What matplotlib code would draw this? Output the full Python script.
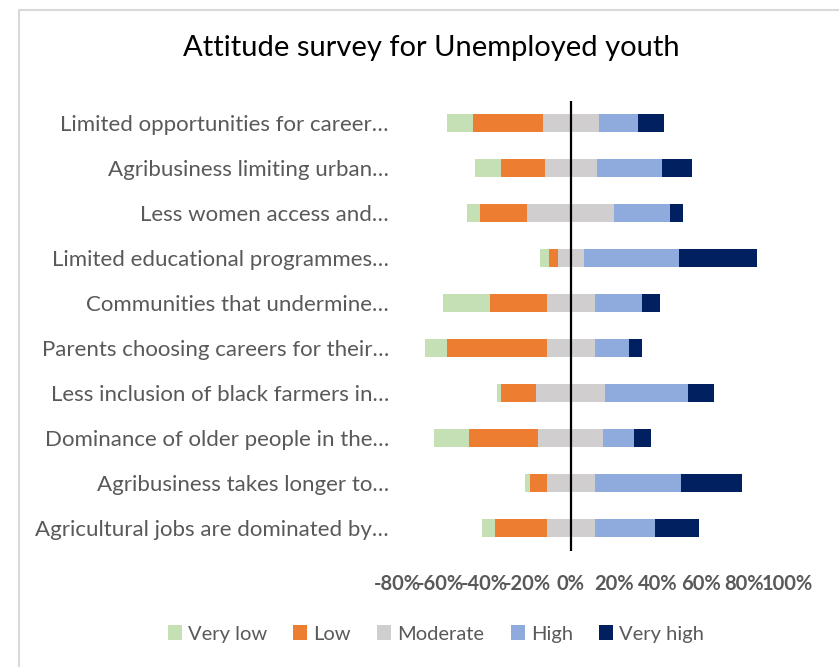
import numpy as np
import matplotlib.pyplot as plt
from matplotlib.patches import Patch, Rectangle

plt.rcParams['font.family'] = ['Lato', 'DejaVu Sans']

# Statements, listed from top to bottom
statements = [
    'Limited opportunities for career…',
    'Agribusiness limiting urban…',
    'Less women access and…',
    'Limited educational programmes…',
    'Communities that undermine…',
    'Parents choosing careers for their…',
    'Less inclusion of black farmers in…',
    'Dominance of older people in the…',
    'Agribusiness takes longer to…',
    'Agricultural jobs are dominated by…',
]

# Share of responses (%) per level
very_low = [12, 12, 6, 4, 22, 10, 2, 16, 2, 6]
low = [32, 20, 22, 4, 26, 46, 16, 32, 8, 24]
moderate = [26, 24, 40, 12, 22, 22, 32, 30, 22, 22]
high = [18, 30, 26, 44, 22, 16, 38, 14, 40, 28]
very_high = [12, 14, 6, 36, 8, 6, 12, 8, 28, 20]

levels = ['Very low', 'Low', 'Moderate', 'High', 'Very high']
colors = ['#c5e0b4', '#ed7d31', '#d0cece', '#8faadc', '#002060']
xticks = [-80, -60, -40, -20, 0, 20, 40, 60, 80, 100]

W, H = 839, 667
fig = plt.figure(figsize=(W / 100, H / 100), dpi=100)

# chart frame
fig.patches.append(Rectangle((19 / W, -0.05), 1.1, (H - 10) / H + 0.05,
                             transform=fig.transFigure, fill=False,
                             edgecolor='#d9d9d9', lw=1.5))

ax = fig.add_axes([397.3 / W, 1 - 550.5 / H, 390.1 / W, 450 / H])

data = np.array([very_low, low, moderate, high, very_high], dtype=float)
y = np.arange(len(statements))[::-1]

# moderate answers are split evenly around zero
left = -(data[0] + data[1] + data[2] / 2)
for vals, name, col in zip(data, levels, colors):
    ax.barh(y, vals, left=left, height=0.4, color=col, label=name)
    left = left + vals

ax.axvline(0, color='black', lw=1.6, zorder=5)
ax.set_xlim(-80, 100)
ax.set_ylim(-0.5, len(statements) - 0.5)
ax.set_xticks(xticks)
ax.set_xticklabels([f'{t}%' for t in xticks], fontsize=14.5,
                   fontweight='bold', color='#595959')
ax.set_yticks(y)
ax.set_yticklabels(statements, fontsize=16, color='#595959')
ax.tick_params(axis='x', length=0, pad=17)
ax.tick_params(axis='y', length=0, pad=6)
for s in ax.spines.values():
    s.set_visible(False)

fig.text(431 / W, 1 - 48 / H, 'Attitude survey for Unemployed youth',
         ha='center', va='center', fontsize=21, color='black')

handles = [Patch(facecolor=c, label=n) for n, c in zip(levels, colors)]
fig.legend(handles=handles, loc='center', bbox_to_anchor=(436 / W, 1 - 634 / H),
           ncol=5, frameon=False, fontsize=14.5, labelcolor='#595959',
           handlelength=0.7, handleheight=0.7, handletextpad=0.3,
           columnspacing=1.3)

fig.savefig('out.png', dpi=100)
